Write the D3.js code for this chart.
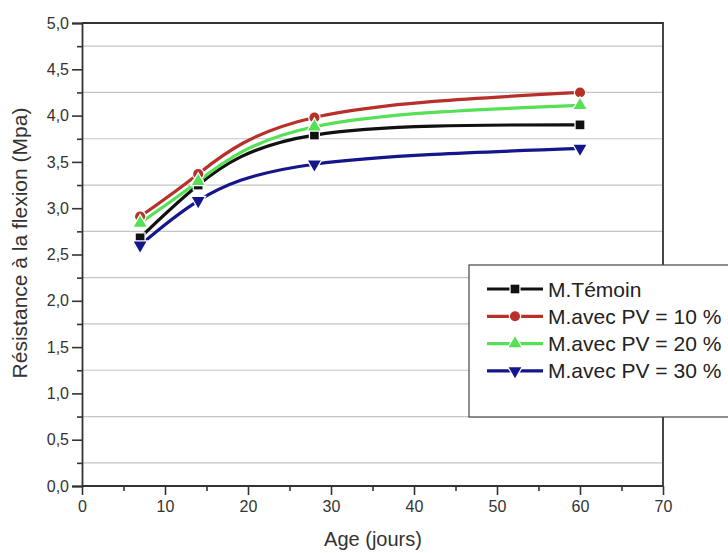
<!DOCTYPE html>
<html>
<head>
<meta charset="utf-8">
<script src="https://cdn.jsdelivr.net/npm/d3@7"></script>
<style>
  html, body { margin: 0; padding: 0; background: #fff; }
  svg { display: block; font-family: "Liberation Sans", Arial, sans-serif; }
</style>
</head>
<body>
<svg id="chart" width="728" height="553"></svg>
<script>
// Flexural strength over curing age
const ages = [7, 14, 28, 60];
const seriesNames = ["M.Témoin", "M.avec PV = 10 %", "M.avec PV = 20 %", "M.avec PV = 30 %"];
const temoin = [2.68, 3.25, 3.79, 3.90];
const pv10 = [2.91, 3.37, 3.98, 4.25];
const pv20 = [2.84, 3.29, 3.88, 4.11];
const pv30 = [2.60, 3.08, 3.475, 3.645];
const yTicks = [0, 0.5, 1, 1.5, 2, 2.5, 3, 3.5, 4, 4.5, 5];
const yMinor = [0.25, 0.75, 1.25, 1.75, 2.25, 2.75, 3.25, 3.75, 4.25, 4.75];
const xTicks = [0, 10, 20, 30, 40, 50, 60, 70];
const xMinor = [5, 15, 25, 35, 45, 55, 65];

const series = [
  { name: seriesNames[0], values: temoin, color: "#111111", marker: "square" },
  { name: seriesNames[1], values: pv10, color: "#b8302a", marker: "circle" },
  { name: seriesNames[2], values: pv20, color: "#55e055", marker: "triangle" },
  { name: seriesNames[3], values: pv30, color: "#16168c", marker: "triangleDown" }
];

const svg = d3.select("#chart");
const m = { left: 82, right: 663, top: 23, bottom: 486 };

const x = d3.scaleLinear().domain([0, 70]).range([m.left, m.right]);
const y = d3.scaleLinear().domain([0, 5]).range([m.bottom, m.top]);

// horizontal grid on the minor positions
svg.append("g").selectAll("line").data(yMinor).join("line")
  .attr("x1", m.left).attr("x2", m.right)
  .attr("y1", d => y(d)).attr("y2", d => y(d))
  .attr("stroke", "#c4c4c4").attr("stroke-width", 1.2);

// frame (top and right)
svg.append("path")
  .attr("d", `M${m.left},${m.top}H${m.right}V${m.bottom}`)
  .attr("fill", "none").attr("stroke", "#333").attr("stroke-width", 1.8);

// axes
const fmt = d3.format(".1f");
const yAxis = svg.append("g").attr("transform", `translate(${m.left},0)`)
  .call(d3.axisLeft(y).tickValues(yTicks).tickSize(10).tickPadding(3)
    .tickFormat(d => fmt(d).replace(".", ",")));
const yAxisMinor = svg.append("g").attr("transform", `translate(${m.left},0)`)
  .call(d3.axisLeft(y).tickValues(yMinor).tickSize(5).tickFormat(""));
const xAxis = svg.append("g").attr("transform", `translate(0,${m.bottom})`)
  .call(d3.axisBottom(x).tickValues(xTicks).tickSize(9).tickPadding(6));
const xAxisMinor = svg.append("g").attr("transform", `translate(0,${m.bottom})`)
  .call(d3.axisBottom(x).tickValues(xMinor).tickSize(5).tickFormat(""));

[yAxis, yAxisMinor, xAxis, xAxisMinor].forEach(g => {
  g.select(".domain").attr("stroke", "#333").attr("stroke-width", 1.8);
  g.selectAll(".tick line").attr("stroke", "#333").attr("stroke-width", 1.6);
  g.selectAll("text").attr("fill", "#333").style("font-size", "16px")
    .style("font-family", "'Liberation Sans', Arial, sans-serif");
});
xAxis.select(".domain").attr("d", `M${m.left},0H${m.right}`);
xAxisMinor.select(".domain").remove();
yAxisMinor.select(".domain").remove();

// axis titles
svg.append("text")
  .attr("transform", `translate(27,243) rotate(-90)`)
  .attr("text-anchor", "middle").attr("fill", "#333")
  .style("font-size", "21px").text("Résistance à la flexion (Mpa)");
svg.append("text")
  .attr("x", 373).attr("y", 546)
  .attr("text-anchor", "middle").attr("fill", "#333")
  .style("font-size", "20px").text("Age (jours)");

// markers
const symbolFor = {
  square: d3.symbolSquare,
  circle: d3.symbolCircle,
  triangle: d3.symbolTriangle,
  triangleDown: d3.symbolTriangle
};
function drawMarker(g, s, cx, cy) {
  const size = s.marker === "circle" ? 80 : s.marker === "square" ? 75 : 70;
  g.append("path")
    .attr("d", d3.symbol().type(symbolFor[s.marker]).size(size)())
    .attr("transform", `translate(${cx},${cy})` + (s.marker === "triangleDown" ? " rotate(180)" : ""))
    .attr("fill", s.color)
    .attr("stroke", "#fff").attr("stroke-width", 2.5)
    .attr("paint-order", "stroke");
}

const line = d3.line().x((d, i) => x(ages[i])).y(d => y(d)).curve(d3.curveNatural);

const plot = svg.append("g");
series.forEach(s => {
  plot.append("path")
    .datum(s.values)
    .attr("d", line)
    .attr("fill", "none")
    .attr("stroke", s.color)
    .attr("stroke-width", 3.2)
    .attr("stroke-linejoin", "round");
});
series.forEach(s => {
  const g = plot.append("g");
  s.values.forEach((v, i) => drawMarker(g, s, x(ages[i]), y(v)));
});

// legend
const lg = svg.append("g");
lg.append("rect")
  .attr("x", 469).attr("y", 265).attr("width", 280).attr("height", 152)
  .attr("fill", "#fff").attr("stroke", "#444").attr("stroke-width", 1.2);
series.forEach((s, i) => {
  const ly = 289 + i * 27.3;
  lg.append("line")
    .attr("x1", 487).attr("x2", 543).attr("y1", ly).attr("y2", ly)
    .attr("stroke", s.color).attr("stroke-width", 3.2);
  drawMarker(lg, s, 515, ly);
  lg.append("text")
    .attr("x", 548).attr("y", ly + 7.5)
    .attr("fill", "#222")
    .style("font-size", "21px")
    .text(s.name);
});
</script>
</body>
</html>
